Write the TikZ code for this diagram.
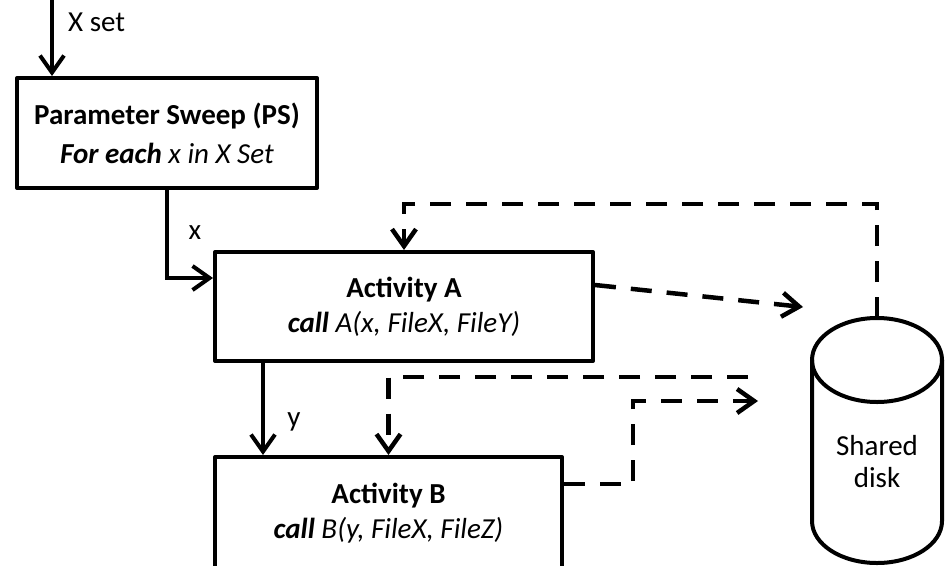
\documentclass[tikz,border=0pt]{standalone}
\usepackage{fontspec}
\setmainfont{Carlito}
\usetikzlibrary{arrows.meta,calc}

\begin{document}
\begin{tikzpicture}[x=1pt,y=-1pt,
  box/.style={draw, line width=4pt, line join=round, align=center, inner sep=0pt,
              font=\fontsize{29}{35}\selectfont},
  tip/.style={-{Straight Barb[length=17pt,width=24pt]}},
  flow/.style={line width=4pt, tip},
  shared/.style={line width=4.5pt, dash pattern=on 21pt off 15pt, tip},
  lbl/.style={font=\fontsize{29}{32}\selectfont, inner sep=0pt},
  disklabel/.style={font=\fontsize{29}{32}\selectfont, align=center, inner sep=0pt}]
\useasboundingbox (0,0) rectangle (949,565);

% processing steps
\node[box, minimum width=300pt, minimum height=110pt] (ps) at (167,133)
  {\textbf{Parameter Sweep (PS)}\\[4pt]\textbf{\textit{For each}} \textit{x in X Set}};
\node[box, minimum width=378pt, minimum height=109pt] (a) at (404,306.5)
  {\raisebox{0pt}[\height][\dp\strutbox]{\textbf{Activity A}}\\\textbf{\textit{call}} \textit{A(x, FileX, FileY)}};
\node[box, minimum width=347pt, minimum height=112pt] (b) at (388.5,513)
  {\textbf{Activity B}\\\textbf{\textit{call}} \textit{B(y, FileX, FileZ)}};

% shared disk drawn as a cylinder
\draw[line width=4pt] (812,360) -- (812,521)
  arc[start angle=180, end angle=0, x radius=65, y radius=42] -- (942,360);
\draw[line width=4pt] (877,360) ellipse[x radius=65, y radius=42];
\coordinate (disktop) at (877,318);
\node[disklabel] (disk) at (877,462) {Shared\\disk};

% free ends of the file transfers
\coordinate (xin) at (52,0);
\coordinate (toDiskA) at (803,307);
\coordinate (fromDiskB) at (748,377);
\coordinate (toDiskB) at (758,401);

% control flow
\draw[flow] (xin) -- (xin |- ps.north);
\node[lbl, anchor=west] (xsetlbl) at (68,22) {X set};
\draw[flow] (ps.south) |- ([yshift=28.5pt]a.west);
\node[lbl] (xlbl) at (195,233) {x};
\draw[flow] ([xshift=50pt]a.south west) -- ([xshift=50pt]b.north west);
\node[lbl] (ylbl) at (294,422) {y};

% data exchanged with the shared disk
\draw[shared] (disktop) -- (877,204) -| (a.north);
\draw[shared] ([yshift=21.5pt]a.east) -- (toDiskA);
\draw[shared] (fromDiskB) -| (b.north);
\draw[shared] ([yshift=29pt]b.east) -- (633,484) |- (toDiskB);
\end{tikzpicture}
\end{document}
